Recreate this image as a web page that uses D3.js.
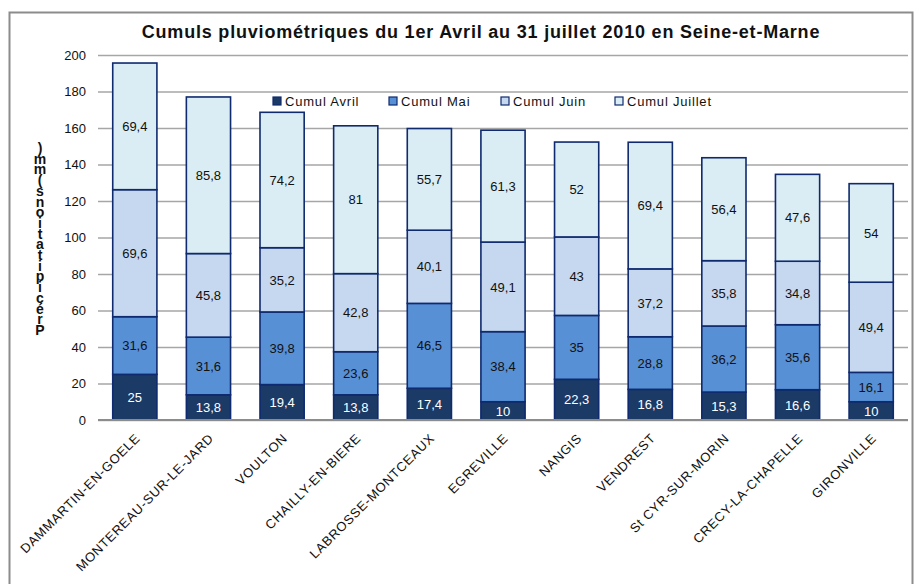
<!DOCTYPE html>
<html>
<head>
<meta charset="utf-8">
<script src="https://cdn.jsdelivr.net/npm/d3@7"></script>
<style>
  body { margin: 0; background: #fff; }
  svg { display: block; font-family: Arial, "Liberation Sans", sans-serif; }
</style>
</head>
<body>
<div id="chart"></div>
<script>
const STATIONS = [
  "DAMMARTIN-EN-GOELE", "MONTEREAU-SUR-LE-JARD", "VOULTON", "CHAILLY-EN-BIERE",
  "LABROSSE-MONTCEAUX", "EGREVILLE", "NANGIS", "VENDREST",
  "St CYR-SUR-MORIN", "CRECY-LA-CHAPELLE", "GIRONVILLE"
];
const AVRIL   = [25, 13.8, 19.4, 13.8, 17.4, 10, 22.3, 16.8, 15.3, 16.6, 10];
const MAI     = [31.6, 31.6, 39.8, 23.6, 46.5, 38.4, 35, 28.8, 36.2, 35.6, 16.1];
const JUIN    = [69.6, 45.8, 35.2, 42.8, 40.1, 49.1, 43, 37.2, 35.8, 34.8, 49.4];
const JUILLET = [69.4, 85.8, 74.2, 81, 55.7, 61.3, 52, 69.4, 56.4, 47.6, 54];
const SERIES = ["Cumul Avril", "Cumul Mai", "Cumul Juin", "Cumul Juillet"];
const Y_TICKS = [0, 20, 40, 60, 80, 100, 120, 140, 160, 180, 200];

const COLORS = ["#1B3A66", "#5890D6", "#C6D8F0", "#DAEDF4"];
const LABEL_COLORS = ["#fff", "#111", "#111", "#111"];
const EDGE = "#0F2A6E";

const W = 919, H = 584;
const M = { left: 98, right: 11, top: 55, bottom: 164 };

const svg = d3.select("#chart").append("svg")
  .attr("width", W).attr("height", H);

// outer frame
svg.append("rect")
  .attr("x", 9.5).attr("y", 12.5)
  .attr("width", 903).attr("height", 590)
  .attr("fill", "none").attr("stroke", "#8c8c8c").attr("stroke-width", 2);

svg.append("text")
  .attr("x", 481).attr("y", 38)
  .attr("text-anchor", "middle")
  .attr("font-size", "18px").attr("font-weight", "bold")
  .attr("letter-spacing", "0.8px")
  .attr("fill", "#111")
  .text("Cumuls pluviométriques du 1er Avril au 31 juillet 2010 en Seine-et-Marne");

const x = d3.scaleBand()
  .domain(STATIONS)
  .range([M.left, W - M.right])
  .paddingInner(0.4).paddingOuter(0.2);

const y = d3.scaleLinear()
  .domain([0, 200])
  .range([H - M.bottom, M.top]);

// gridlines + tick labels
const yAxis = svg.append("g")
  .attr("transform", `translate(${M.left},0)`)
  .call(d3.axisLeft(y).tickValues(Y_TICKS).tickPadding(12)
    .tickSizeInner(-(W - M.right - M.left)).tickSizeOuter(0));
yAxis.select(".domain").remove();
yAxis.selectAll(".tick line")
  .attr("stroke", "#a6a6a6").attr("stroke-width", 1.5);
yAxis.selectAll(".tick text")
  .attr("x", -12)
  .attr("font-size", "13px").attr("fill", "#111")
  .attr("font-family", "Arial, 'Liberation Sans', sans-serif");

// stacked bars
const rows = STATIONS.map((s, i) => ({
  station: s, a: AVRIL[i], m: MAI[i], j: JUIN[i], jl: JUILLET[i]
}));
const stack = d3.stack().keys(["a", "m", "j", "jl"])(rows);

const fmt = v => String(+v.toFixed(1)).replace(".", ",");

stack.forEach((layer, k) => {
  const g = svg.append("g");
  g.selectAll("rect")
    .data(layer)
    .join("rect")
    .attr("x", d => x(d.data.station))
    .attr("width", x.bandwidth())
    .attr("y", d => y(d[1]))
    .attr("height", d => y(d[0]) - y(d[1]))
    .attr("fill", COLORS[k])
    .attr("stroke", EDGE)
    .attr("stroke-width", 1.6);

  g.selectAll("text")
    .data(layer)
    .join("text")
    .attr("x", d => x(d.data.station) + x.bandwidth() / 2)
    .attr("y", d => (y(d[0]) + y(d[1])) / 2)
    .attr("dy", "0.36em")
    .attr("text-anchor", "middle")
    .attr("font-size", "13px")
    .attr("fill", LABEL_COLORS[k])
    .text(d => fmt(d[1] - d[0]));
});

// baseline
svg.append("line")
  .attr("x1", M.left).attr("x2", W - M.right)
  .attr("y1", y(0)).attr("y2", y(0))
  .attr("stroke", "#8c8c8c").attr("stroke-width", 2);

// category labels
svg.append("g")
  .selectAll("text")
  .data(STATIONS)
  .join("text")
  .attr("transform", d => `translate(${x(d) + x.bandwidth() / 2 + 6},${y(0) + 19}) rotate(-45)`)
  .attr("text-anchor", "end")
  .attr("font-size", "13px")
  .attr("letter-spacing", "0.7px")
  .attr("fill", "#111")
  .text(d => d);

// y axis title: upright glyphs piled from bottom to top
svg.append("text")
  .attr("x", 40).attr("y", 140)
  .style("writing-mode", "vertical-rl")
  .style("text-orientation", "upright")
  .attr("font-size", "14px").attr("font-weight", "bold")
  .attr("letter-spacing", "-5.3px")
  .attr("fill", "#111")
  .text(")mm(snoitatipicérP");

// legend
const legendX = [273, 389, 501, 615];
const legend = svg.append("g");
SERIES.forEach((name, k) => {
  legend.append("rect")
    .attr("x", legendX[k]).attr("y", 97)
    .attr("width", 8).attr("height", 8)
    .attr("fill", COLORS[k]).attr("stroke", EDGE).attr("stroke-width", 1.2);
  legend.append("text")
    .attr("x", legendX[k] + 12).attr("y", 106)
    .attr("font-size", "13px").attr("fill", "#111")
    .attr("letter-spacing", "0.8px")
    .text(name);
});
</script>
</body>
</html>
